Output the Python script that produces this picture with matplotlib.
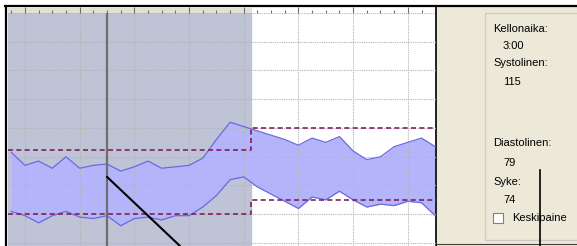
import numpy as np
import matplotlib
matplotlib.use("Agg")
from matplotlib import pyplot as plt
from matplotlib.patches import Rectangle
from matplotlib.lines import Line2D
from matplotlib.ticker import MultipleLocator

# measurement times (hours), every 30 min
times = np.arange(-0.5, 15.01, 0.5)
systolic = [123, 114, 117, 112, 120, 112, 114, 115, 110, 113, 117, 112, 113, 114, 119, 132,
            144, 141, 138, 135, 132, 128, 133, 130, 134, 124, 118, 120, 127, 130, 133, 127]
diastolic = [82, 79, 74, 79, 82, 78, 77, 79, 72, 77, 78, 76, 79, 79, 85, 93,
             104, 106, 99, 94, 89, 84, 92, 90, 96, 90, 85, 87, 86, 89, 88, 79]

# night/day limits
limit_t = [-0.62, 8.25, 15.03]
sys_limit = [125, 140, 140]
dia_limit = [80, 90, 90]
night_end = 8.25
cursor_t = 3.0

info = [("Kellonaika:", "3:00"), ("Systolinen:", "115"),
        ("Diastolinen:", "79"), ("Syke:", "74")]

W, H = 577, 246
fig = plt.figure(figsize=(W / 100, H / 100), dpi=100)
fig.patch.set_facecolor("white")

def fx(px):
    return px / W

def fy(py):
    return 1 - py / H

# right side panel
fig.add_artist(Rectangle((fx(437), 0), 1 - fx(437), fy(7), transform=fig.transFigure,
                         facecolor="#ECE9D8", edgecolor="none", zorder=0))
fig.add_artist(Rectangle((fx(485), fy(240)), 1 - fx(485) + 0.01, fy(13) - fy(240),
                         transform=fig.transFigure, facecolor="#ECE9D8",
                         edgecolor="#D0CDBE", lw=1, zorder=1))

# main plot
ax = fig.add_axes([fx(8), 0, fx(436) - fx(8), fy(13)])
ax.set_xlim(-0.62, 15.03)
ax.set_ylim(57.9, 220)
ax.set_facecolor("white")
ax.axvspan(-0.62, night_end, color="#BFC3D6", zorder=0)

ax.fill_between(times, diastolic, systolic, color="#B4B4FB", lw=0, zorder=1.5)
ax.plot(times, systolic, color="#6A6AE0", lw=0.9, zorder=3)
ax.plot(times, diastolic, color="#6A6AE0", lw=0.9, zorder=3)

ax.step(limit_t, sys_limit, where="post", color="#802060", lw=1.2,
        dashes=(3, 2), zorder=4)
ax.step(limit_t, dia_limit, where="post", color="#802060", lw=1.2,
        dashes=(3, 2), zorder=4)

ax.axvline(cursor_t, color="#6E6E6E", lw=1.6, zorder=5)

ax.xaxis.set_major_locator(MultipleLocator(2))
ax.yaxis.set_major_locator(MultipleLocator(20))
ax.set_axisbelow(False)
ax.grid(True, color="#B4B4B4", lw=0.8, linestyle=(0, (1, 1)), zorder=2)
ax.tick_params(length=0, labelbottom=False, labelleft=False)
for s in ["left", "top", "bottom"]:
    ax.spines[s].set_visible(False)
ax.spines["right"].set_color("#202020")
ax.spines["right"].set_linewidth(1.4)

# ruler strip on top
rax = fig.add_axes([fx(8), fy(13), fx(436) - fx(8), fy(8) - fy(13)])
rax.set_xlim(-0.62, 15.03)
rax.set_ylim(0, 1)
rax.set_facecolor("white")
rax.axvspan(-0.62, night_end, color="#E2E1D3")
rax.xaxis.set_major_locator(MultipleLocator(2))
rax.xaxis.set_minor_locator(MultipleLocator(0.5))
rax.tick_params(axis="x", which="major", direction="in", length=4, width=0.8,
                color="#707070", labelbottom=False)
rax.tick_params(axis="x", which="minor", direction="in", length=2, width=0.8,
                color="#707070")
rax.tick_params(axis="y", length=0, labelleft=False)
for s in ["left", "top", "bottom"]:
    rax.spines[s].set_visible(False)
rax.spines["right"].set_color("#202020")
rax.spines["right"].set_linewidth(1.4)

# frame lines
fig.add_artist(Line2D([fx(5), 1], [fy(6), fy(6)], color="black", lw=1.6))
fig.add_artist(Line2D([fx(6), fx(6)], [0, fy(6)], color="black", lw=1.6))
fig.add_artist(Line2D([fx(437), 1], [fy(244), fy(244)], color="#404040", lw=0.8))

# info texts
ys = [(29, 46), (63, 82), (143, 163), (182, 200)]
for (lab, val), (y1, y2) in zip(info, ys):
    fig.text(fx(493), fy(y1), lab, fontsize=8, family="Liberation Sans", va="center")
    fig.text(fx(503), fy(y2), val, fontsize=8, family="Liberation Sans", va="center")

fig.add_artist(Rectangle((fx(493), fy(223)), fx(10), 10 / H, transform=fig.transFigure,
                         facecolor="white", edgecolor="#808080", lw=0.8))
fig.text(fx(512), fy(218), "Keskipaine", fontsize=8, family="Liberation Sans", va="center")

# pointer lines
ax.annotate("", xy=(cursor_t, 106), xycoords="data", xytext=(fx(180), 0),
            textcoords="figure fraction",
            arrowprops=dict(arrowstyle="-", color="black", lw=1.5, shrinkA=0, shrinkB=0),
            zorder=6, annotation_clip=False)
fig.add_artist(Line2D([fx(540), fx(540)], [0, fy(170)], color="black", lw=1.2))

fig.savefig("out.png", dpi=100)
